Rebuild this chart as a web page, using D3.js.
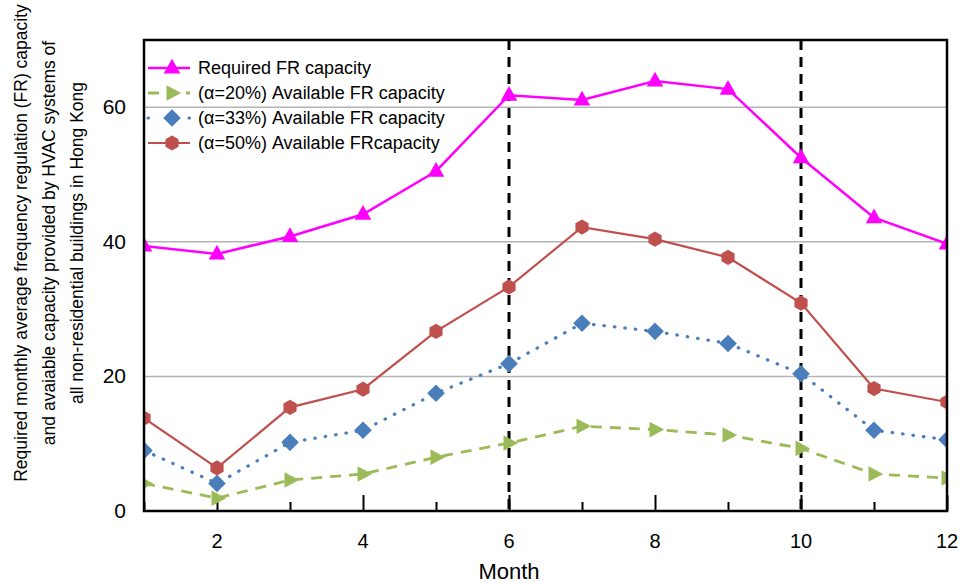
<!DOCTYPE html>
<html>
<head>
<meta charset="utf-8">
<script src="https://cdn.jsdelivr.net/npm/d3@7"></script>
<style>
  body { margin: 0; background: #fff; }
  text { font-family: "Liberation Sans", Arial, sans-serif; }
</style>
</head>
<body>
<div id="chart"></div>
<script>
// data
var months = [1, 2, 3, 4, 5, 6, 7, 8, 9, 10, 11, 12];
var required = [39.4, 38.2, 40.8, 44.1, 50.5, 61.8, 61.1, 63.9, 62.7, 52.5, 43.6, 39.7];
var alpha20 = [4.1, 1.9, 4.6, 5.5, 8.0, 10.1, 12.6, 12.1, 11.3, 9.3, 5.5, 4.9];
var alpha33 = [9.0, 4.1, 10.2, 12.0, 17.5, 21.9, 27.9, 26.7, 24.9, 20.4, 12.0, 10.6];
var alpha50 = [13.8, 6.4, 15.4, 18.1, 26.7, 33.3, 42.2, 40.4, 37.7, 30.9, 18.2, 16.2];
var seriesNames = ["Required FR capacity", "(\u03b1=20%) Available FR capacity",
                   "(\u03b1=33%) Available FR capacity", "(\u03b1=50%) Available FRcapacity"];
var yTicks = [0, 20, 40, 60];
var xTicks = [2, 4, 6, 8, 10, 12];
var markedMonths = [6, 10];

// set the dimensions and margins of the graph
var margin = {top: 40, right: 17, bottom: 72, left: 144},
    width = 964 - margin.left - margin.right,
    height = 583 - margin.top - margin.bottom;

var svg = d3.select("#chart")
  .append("svg")
    .attr("width", 964)
    .attr("height", 583)
  .append("g")
    .attr("transform", "translate(" + margin.left + "," + margin.top + ")");

var x = d3.scaleLinear().domain([1, 12]).range([0, width]);
var y = d3.scaleLinear().domain([0, 70]).range([height, 0]);

svg.append("clipPath").attr("id", "clip")
  .append("rect").attr("width", width).attr("height", height);

// grid lines
svg.selectAll(".grid")
  .data(yTicks.filter(function(d) { return d > 0; }))
  .enter().append("line")
    .attr("x1", 0).attr("x2", width)
    .attr("y1", function(d) { return y(d); })
    .attr("y2", function(d) { return y(d); })
    .attr("stroke", "#b3b3b3")
    .attr("stroke-width", 1.5);

// y tick labels
svg.selectAll(".ylab")
  .data(yTicks)
  .enter().append("text")
    .attr("x", -18)
    .attr("y", function(d) { return y(d) + 7; })
    .attr("text-anchor", "end")
    .attr("font-size", 21)
    .text(function(d) { return d; });

// x axis, ticks pointing inward
var xAxis = svg.append("g")
  .attr("transform", "translate(0," + height + ")")
  .call(d3.axisBottom(x).tickValues(months).tickSize(0).tickFormat(""));
xAxis.select(".domain").remove();
xAxis.selectAll(".tick line")
  .attr("y2", function(d) { return d % 2 === 0 ? -16 : -9; })
  .attr("stroke", "#000")
  .attr("stroke-width", 2);

svg.selectAll(".xlab")
  .data(xTicks)
  .enter().append("text")
    .attr("x", function(d) { return x(d); })
    .attr("y", height + 37)
    .attr("text-anchor", "middle")
    .attr("font-size", 20)
    .text(function(d) { return d; });

// vertical dashed markers
svg.selectAll(".vmark")
  .data(markedMonths)
  .enter().append("line")
    .attr("x1", function(d) { return x(d); })
    .attr("x2", function(d) { return x(d); })
    .attr("y1", 0).attr("y2", height)
    .attr("stroke", "#000")
    .attr("stroke-width", 3)
    .attr("stroke-dasharray", "10,7");

// custom marker shapes
var hexagon = { draw: function(p, size) {
  var r = Math.sqrt(size / 2.6);
  for (var i = 0; i < 6; i++) {
    var a = Math.PI / 6 + i * Math.PI / 3;
    if (i === 0) p.moveTo(r * Math.cos(a), r * Math.sin(a));
    else p.lineTo(r * Math.cos(a), r * Math.sin(a));
  }
  p.closePath();
}};
var rightTri = { draw: function(p, size) {
  var r = Math.sqrt(size) * 0.75;
  p.moveTo(r, 0); p.lineTo(-r * 0.6, -r * 0.85); p.lineTo(-r * 0.6, r * 0.85); p.closePath();
}};
var upTri = { draw: function(p, size) {
  var r = Math.sqrt(size) * 0.75;
  p.moveTo(0, -r); p.lineTo(r * 0.9, r * 0.6); p.lineTo(-r * 0.9, r * 0.6); p.closePath();
}};
var diamond = { draw: function(p, size) {
  var r = Math.sqrt(size) * 0.72;
  p.moveTo(0, -r); p.lineTo(r, 0); p.lineTo(0, r); p.lineTo(-r, 0); p.closePath();
}};

var series = [
  {values: required, color: "#ff00ff", dash: null, width: 2.5, shape: upTri, size: 150},
  {values: alpha20, color: "#9bbb59", dash: "11,8", width: 2.8, shape: rightTri, size: 150},
  {values: alpha33, color: "#4a7ebb", dash: "0.5,10", width: 3.2, shape: diamond, size: 150},
  {values: alpha50, color: "#c0504d", dash: null, width: 2.2, shape: hexagon, size: 150}
];

var line = d3.line()
  .x(function(d, i) { return x(months[i]); })
  .y(function(d) { return y(d); });

var plot = svg.append("g").attr("clip-path", "url(#clip)");

series.forEach(function(s) {
  plot.append("path")
    .datum(s.values)
    .attr("fill", "none")
    .attr("stroke", s.color)
    .attr("stroke-width", s.width)
    .attr("stroke-linecap", s.dash === "0.5,10" ? "round" : "butt")
    .attr("stroke-dasharray", s.dash)
    .attr("d", line);
  plot.selectAll(null)
    .data(s.values)
    .enter().append("path")
      .attr("transform", function(d, i) { return "translate(" + x(months[i]) + "," + y(d) + ")"; })
      .attr("fill", s.color)
      .attr("d", d3.symbol().type(s.shape).size(s.size));
});

// frame
svg.append("rect")
  .attr("width", width).attr("height", height)
  .attr("fill", "none")
  .attr("stroke", "#000")
  .attr("stroke-width", 2.5);

// legend
var legend = svg.selectAll(".legend")
  .data(series)
  .enter().append("g")
    .attr("transform", function(d, i) { return "translate(4," + (28 + i * 25) + ")"; });
legend.append("line")
  .attr("x1", 0).attr("x2", 42)
  .attr("stroke", function(d) { return d.color; })
  .attr("stroke-width", function(d) { return d.width; })
  .attr("stroke-linecap", function(d) { return d.dash === "0.5,10" ? "round" : "butt"; })
  .attr("stroke-dasharray", function(d) { return d.dash === "0.5,10" ? "0.5,20" : d.dash; });
legend.append("path")
  .attr("transform", "translate(24,0)")
  .attr("fill", function(d) { return d.color; })
  .attr("d", function(d) { return d3.symbol().type(d.shape).size(d.size)(); });
legend.append("text")
  .attr("x", 50)
  .attr("y", 6)
  .attr("font-size", 18)
  .text(function(d, i) { return seriesNames[i]; });

// axis titles
svg.append("text")
  .attr("x", x(6))
  .attr("y", height + 68)
  .attr("text-anchor", "middle")
  .attr("font-size", 22)
  .text("Month");

var yTitle = ["Required monthly average frequency regulation (FR) capacity",
              "and avaiable capacity provided by HVAC systems of",
              "all non-residential buildings in Hong Kong"];
svg.append("text")
  .attr("transform", "translate(" + (-margin.left + 27) + "," + (243 - margin.top) + ") rotate(-90)")
  .attr("text-anchor", "middle")
  .attr("font-size", 17.5)
  .selectAll("tspan")
  .data(yTitle)
  .enter().append("tspan")
    .attr("x", 0)
    .attr("dy", function(d, i) { return i === 0 ? 0 : 28; })
    .text(function(d) { return d; });
</script>
</body>
</html>
